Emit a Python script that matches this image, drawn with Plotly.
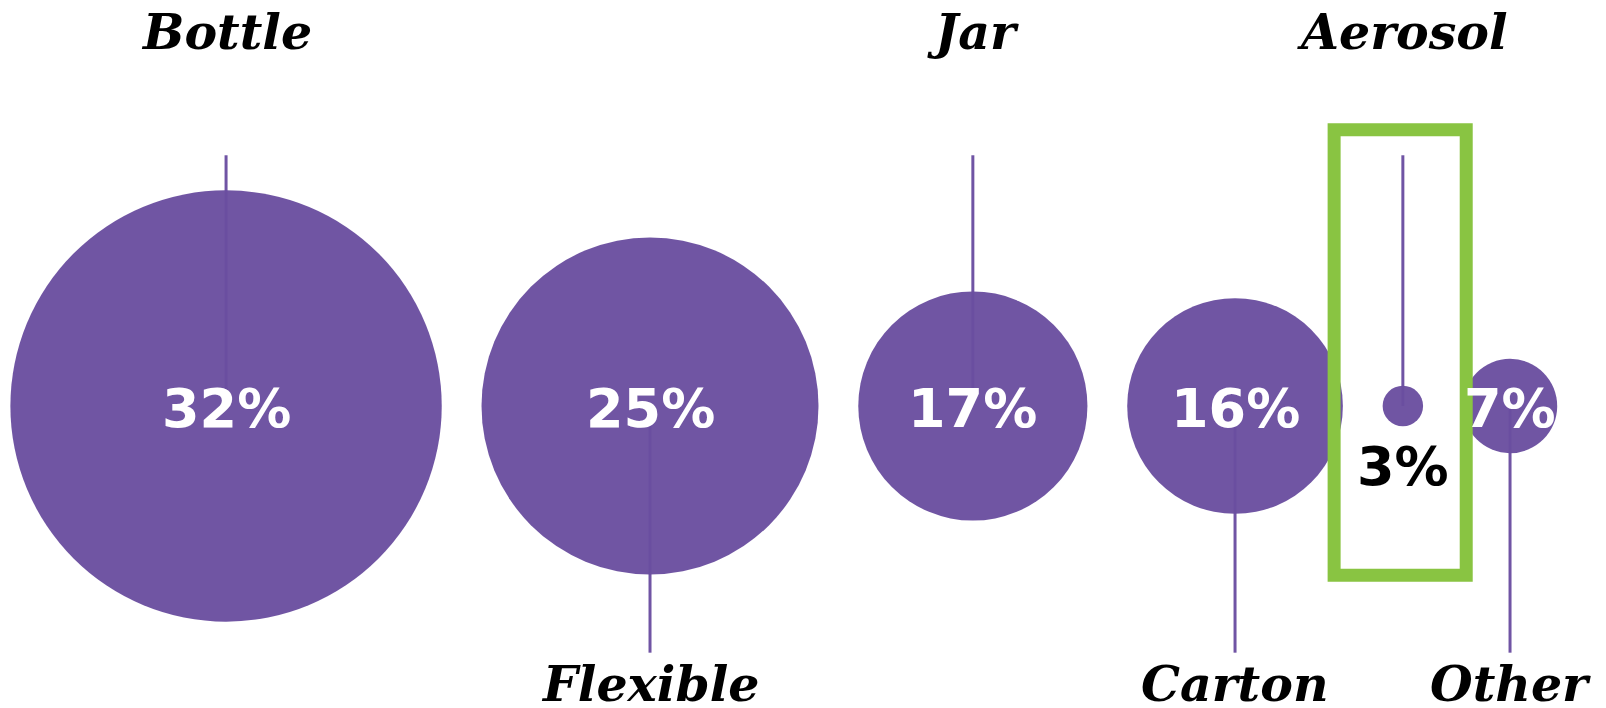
import plotly.graph_objects as go

# ---- data ----
categories = ["Bottle", "Flexible", "Jar", "Carton", "Aerosol", "Other"]
shares = [32, 25, 17, 16, 3, 7]
highlight = "Aerosol"

# ---- style / layout constants ----
W, H = 1606, 708
K = 6.74            # pixels per data unit (radius in units == share)
CY_PX = 406         # vertical pixel position of the centre line
PAD = 1.54          # left padding (units)
GAP = 5.9           # gap between neighbouring circles (units)
STEM_UP = 37.2
STEM_DOWN = 36.6
CIRCLE = "#6A4E9F"
STEM = "#7054A4"
GREEN = "#89C442"
LABEL_FONT = dict(family="DejaVu Serif", size=49, color="black", weight="bold", style="italic")
PCT_FONT = dict(family="DejaVu Sans", size=54, weight="bold")

# pack circles side by side (radius proportional to share)
xs = []
for i, v in enumerate(shares):
    if i == 0:
        xs.append(PAD + v)
    else:
        xs.append(xs[-1] + shares[i - 1] + GAP + v)

fig = go.Figure()

# stems (alternating up / down)
for i, (x, v) in enumerate(zip(xs, shares)):
    end = STEM_UP if i % 2 == 0 else -STEM_DOWN
    fig.add_trace(go.Scatter(x=[x, x], y=[0, end], mode="lines",
                             line=dict(color=STEM, width=3),
                             hoverinfo="skip", showlegend=False))

# circles
fig.add_trace(go.Scatter(
    x=xs, y=[0] * len(xs), mode="markers",
    marker=dict(size=shares, sizemode="diameter", sizeref=1 / (2 * K),
                color=CIRCLE, opacity=0.96, line=dict(width=0)),
    text=categories, hoverinfo="text", showlegend=False))

# highlight box
hi = categories.index(highlight)
fig.add_shape(type="rect", xref="x", yref="y",
              x0=xs[hi] - 9.8 - 0.4, x1=xs[hi] + 9.8 - 0.4, y0=-25.1, y1=41.0,
              line=dict(color=GREEN, width=13), fillcolor="rgba(0,0,0,0)",
              layer="above")

# labels
top_y = (CY_PX - 32) / K
bot_y = (CY_PX - 684) / K
for i, (x, v, c) in enumerate(zip(xs, shares, categories)):
    fig.add_annotation(x=x, y=top_y if i % 2 == 0 else bot_y, text=c,
                       showarrow=False, xanchor="center", yanchor="middle",
                       font=LABEL_FONT)
    if v * K * 2 < 60:
        fig.add_annotation(x=x, y=-9.0, text=f"{v}%", showarrow=False,
                           xanchor="center", yanchor="middle",
                           font=dict(PCT_FONT, color="black"))
    else:
        fig.add_annotation(x=x, y=-0.4, text=f"{v}%", showarrow=False,
                           xanchor="center", yanchor="middle",
                           font=dict(PCT_FONT, color="white"))

fig.update_layout(
    width=W, height=H, margin=dict(l=0, r=0, t=0, b=0),
    paper_bgcolor="white", plot_bgcolor="white",
    xaxis=dict(range=[0, W / K], visible=False, fixedrange=True),
    yaxis=dict(range=[(CY_PX - H) / K, CY_PX / K], visible=False, fixedrange=True),
    showlegend=False,
)

fig.write_html("out.html", config={"displayModeBar": False},
               post_script="document.body.style.margin='0';document.body.style.overflow='hidden';")
